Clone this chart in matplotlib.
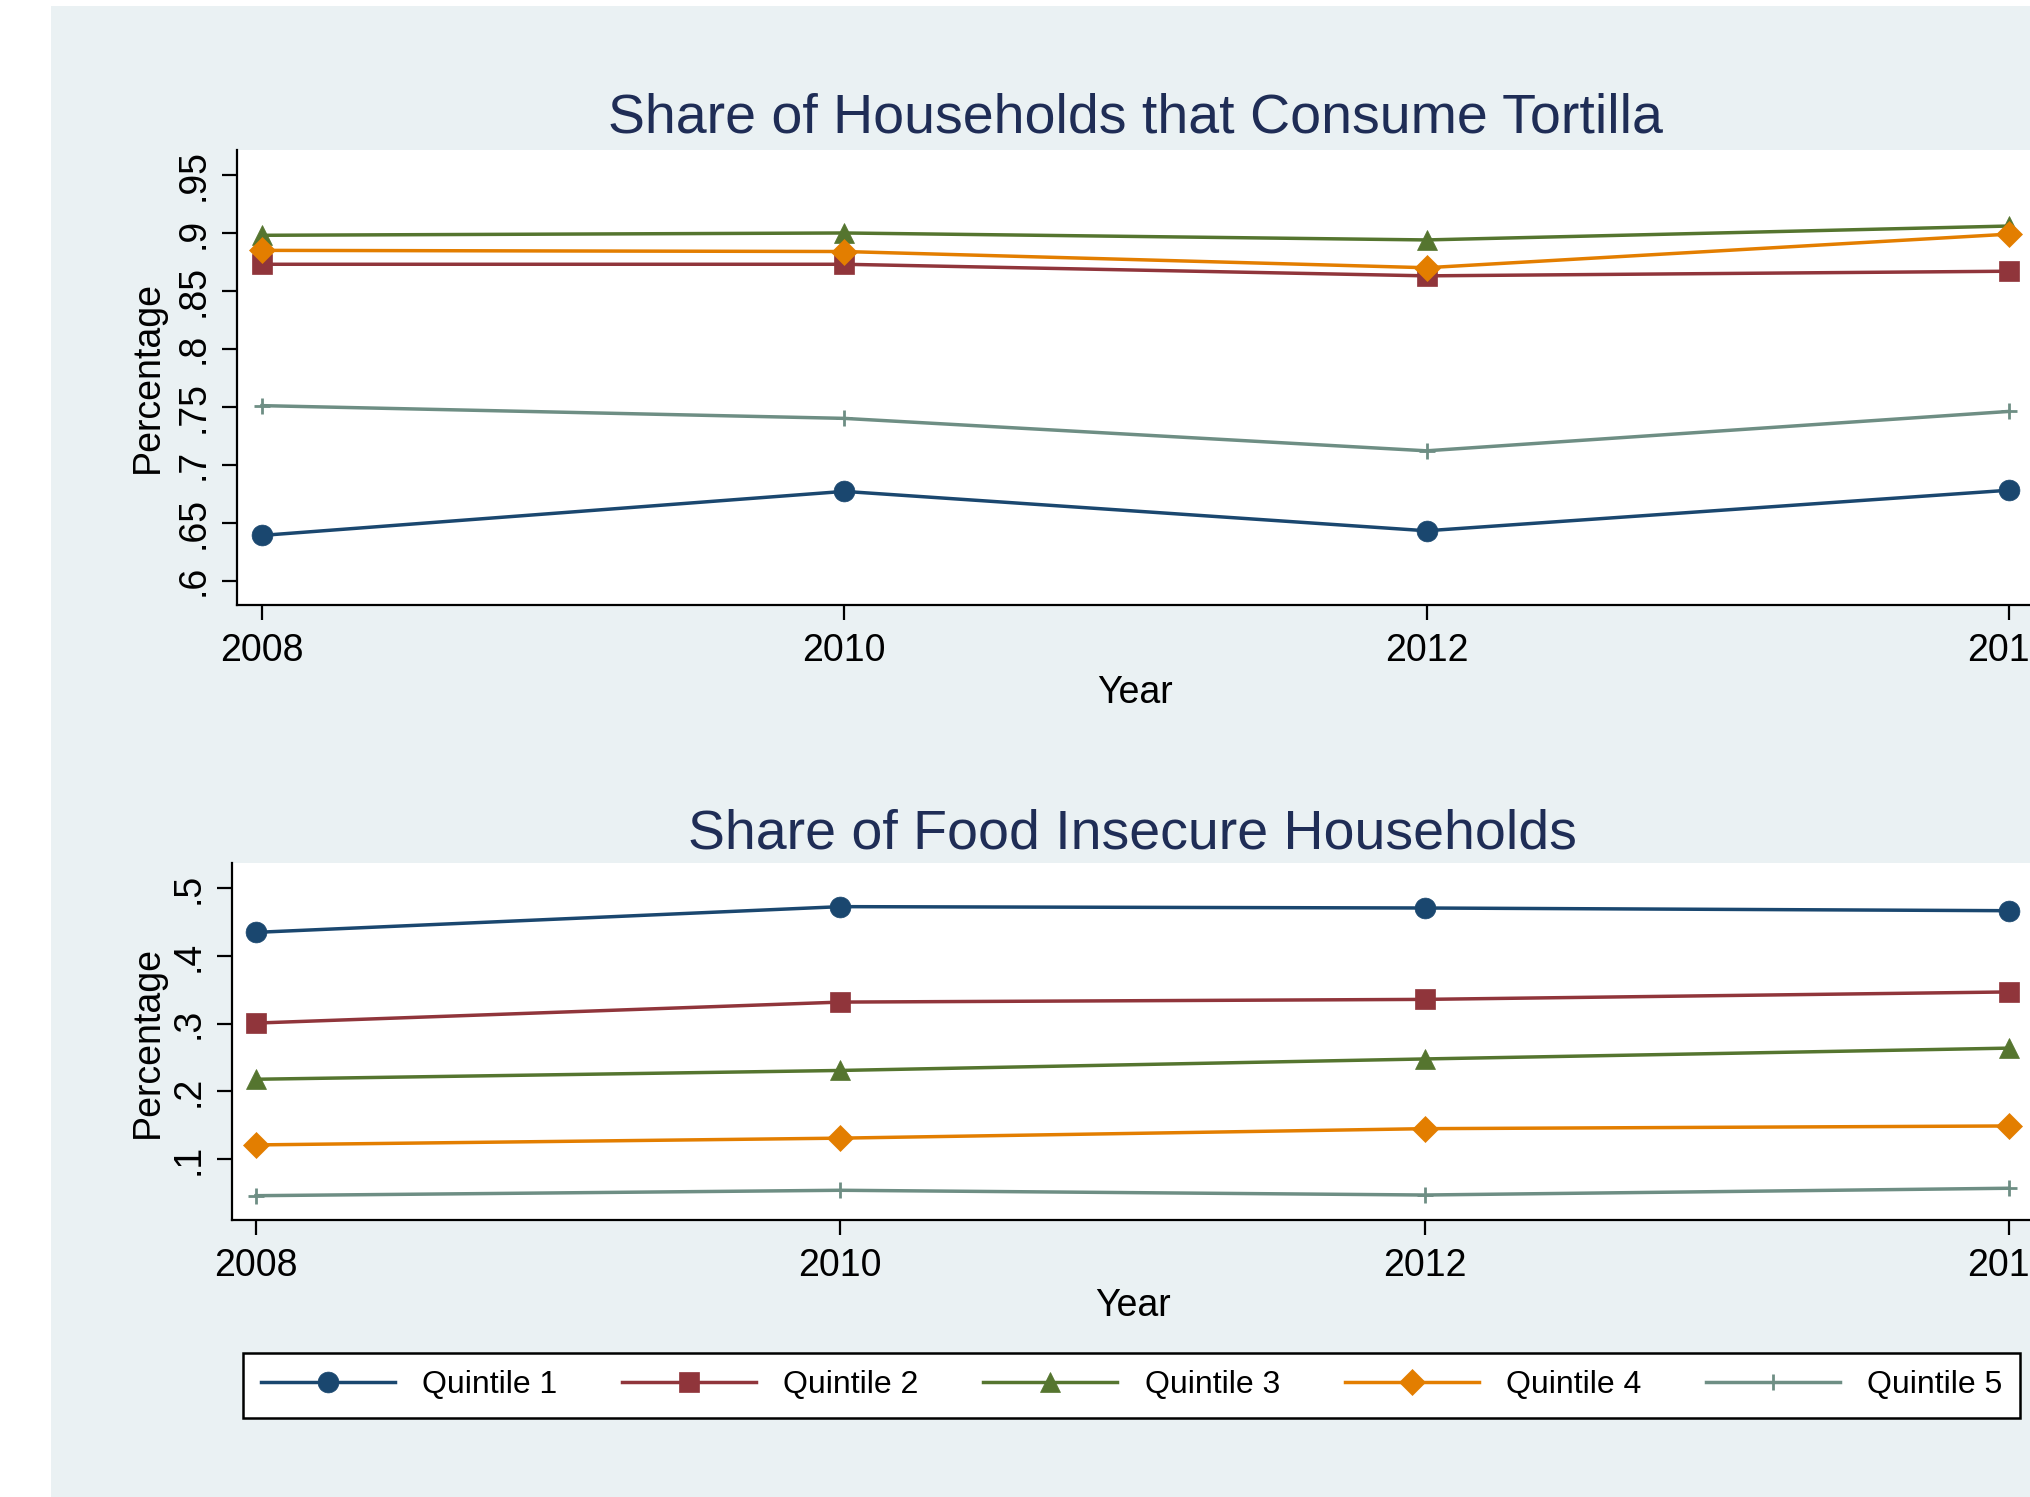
import numpy as np
import matplotlib
matplotlib.use("Agg")
import matplotlib.pyplot as plt
from matplotlib.patches import Rectangle
from matplotlib.ticker import FuncFormatter

plt.rcParams['font.family'] = ['Liberation Sans', 'DejaVu Sans']

# Data
years = [2008, 2010, 2012, 2014]
labels = ["Quintile 1", "Quintile 2", "Quintile 3", "Quintile 4", "Quintile 5"]

# Share of households that consume tortilla
tortilla_q1 = [0.639, 0.677, 0.643, 0.678]
tortilla_q2 = [0.873, 0.873, 0.863, 0.867]
tortilla_q3 = [0.898, 0.900, 0.894, 0.906]
tortilla_q4 = [0.885, 0.884, 0.870, 0.899]
tortilla_q5 = [0.751, 0.740, 0.712, 0.746]

# Share of food insecure households
insecure_q1 = [0.435, 0.473, 0.471, 0.467]
insecure_q2 = [0.301, 0.332, 0.336, 0.347]
insecure_q3 = [0.218, 0.231, 0.248, 0.264]
insecure_q4 = [0.121, 0.131, 0.145, 0.149]
insecure_q5 = [0.046, 0.054, 0.047, 0.057]

tortilla_ticks = [0.6, 0.65, 0.7, 0.75, 0.8, 0.85, 0.9, 0.95]
insecure_ticks = [0.1, 0.2, 0.3, 0.4, 0.5]

# Stata s2color-like styles
colors = ["#1A476F", "#90353B", "#55752F", "#E37E00", "#6E8E84"]
markers = ["o", "s", "^", "D", "+"]
msizes = [15, 14.5, 15, 13.5, 12]

bg = "#EAF1F3"
title_color = "#1F2D56"

fig = plt.figure(figsize=(20.3, 14.97), dpi=100, facecolor="white")
fig.add_artist(Rectangle((51 / 2030, 0), 1, 1 - 6 / 1497, transform=fig.transFigure,
                         facecolor=bg, edgecolor="none", zorder=-10))

ax1 = fig.add_axes([0.1167, 0.5959, 0.8852, 0.3042])
ax2 = fig.add_axes([0.1143, 0.1850, 0.8872, 0.2383])


def fmt(v, pos):
    return f"{v:.2f}".rstrip("0").lstrip("0")


def style_axes(ax, ticks, ylim, xlim, title, title_pad, xlab_y, ylab_x):
    ax.set_facecolor("white")
    for s in ["top", "right"]:
        ax.spines[s].set_visible(False)
    for s in ["left", "bottom"]:
        ax.spines[s].set_linewidth(1.6)
        ax.spines[s].set_color("black")
    ax.set_xlim(xlim)
    ax.set_ylim(ylim)
    ax.set_xticks(years)
    ax.set_xticklabels([str(y) for y in years])
    ax.set_yticks(ticks)
    ax.yaxis.set_major_formatter(FuncFormatter(fmt))
    ax.tick_params(axis="both", direction="out", length=11, width=1.6, labelsize=27, pad=9)
    ax.tick_params(axis="y", labelrotation=90, pad=7)
    for lab in ax.get_yticklabels():
        lab.set_va("center")
    ax.set_xlabel("Year", fontsize=27)
    ax.set_ylabel("Percentage", fontsize=27)
    ax.xaxis.set_label_coords(0.5, xlab_y)
    ax.yaxis.set_label_coords(ylab_x, 0.5)
    ax.set_title(title, fontsize=40, color=title_color, pad=title_pad)


tortilla = [tortilla_q1, tortilla_q2, tortilla_q3, tortilla_q4, tortilla_q5]
insecure = [insecure_q1, insecure_q2, insecure_q3, insecure_q4, insecure_q5]

handles = []
for i in range(5):
    ax1.plot(years, tortilla[i], color=colors[i], marker=markers[i], markersize=msizes[i],
             linewidth=2.5, markeredgewidth=2 if markers[i] == "+" else 0.5,
             markeredgecolor=colors[i], clip_on=False)
    h, = ax2.plot(years, insecure[i], color=colors[i], marker=markers[i], markersize=msizes[i],
                  linewidth=2.5, markeredgewidth=2 if markers[i] == "+" else 0.5,
                  markeredgecolor=colors[i], clip_on=False, label=labels[i])
    handles.append(h)

style_axes(ax1, tortilla_ticks, (0.579, 0.972), (2007.914, 2014.086),
           "Share of Households that Consume Tortilla", 12, -0.154, -0.0395)
style_axes(ax2, insecure_ticks, (0.010, 0.537), (2007.918, 2014.082),
           "Share of Food Insecure Households", 11, -0.191, -0.0366)

leg = fig.legend(handles, labels, loc="lower left",
                 bbox_to_anchor=(0.1197, 0.0528, 0.8754, 0.0494), mode="expand",
                 ncol=5, fontsize=23, handlelength=4.2, handletextpad=0.85,
                 borderpad=0.55, borderaxespad=0, fancybox=False, framealpha=1)
leg.get_frame().set_edgecolor("black")
leg.get_frame().set_linewidth(1.8)

fig.savefig("out.png", dpi=100, facecolor=fig.get_facecolor())
